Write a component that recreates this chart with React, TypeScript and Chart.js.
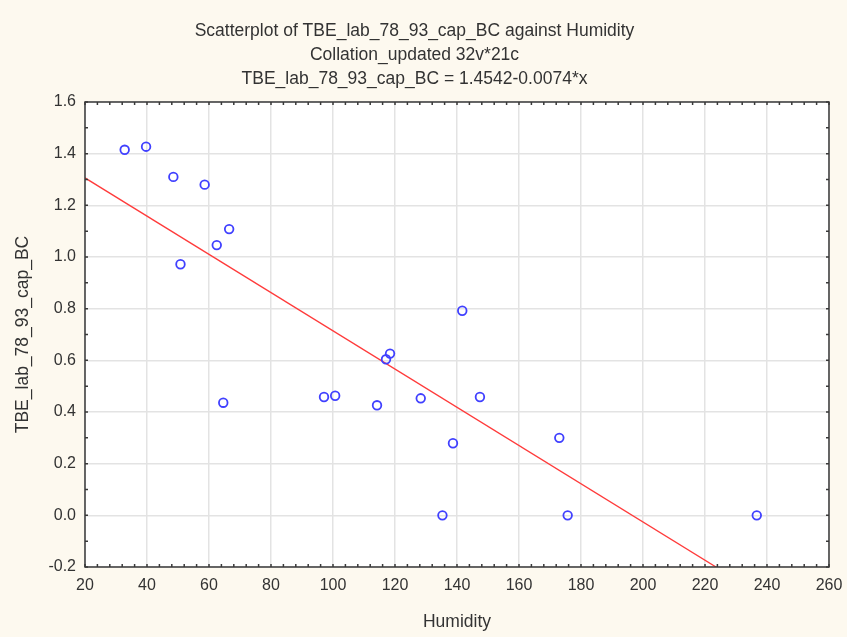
import React, { useEffect, useRef } from "react";
import { Chart, registerables } from "chart.js";

Chart.register(...registerables);

const humidity = [32.8, 39.7, 48.5, 58.6, 66.5, 62.5, 50.8, 64.6, 141.7, 118.4, 117.1, 97.1, 100.7, 114.2, 128.3, 147.4, 138.7, 135.3, 173.0, 175.7, 236.7];
const tbe = [1.415, 1.427, 1.31, 1.28, 1.108, 1.046, 0.972, 0.436, 0.792, 0.626, 0.604, 0.458, 0.463, 0.426, 0.453, 0.458, 0.279, 0.0, 0.30, 0.0, 0.0];

const intercept = 1.4542;
const slope = -0.0074;
const fitX = [20, 260];

const xTicks = [20, 40, 60, 80, 100, 120, 140, 160, 180, 200, 220, 240, 260];
const yTicks = [-0.2, 0.0, 0.2, 0.4, 0.6, 0.8, 1.0, 1.2, 1.4, 1.6];

const titleLines = [
  "Scatterplot of TBE_lab_78_93_cap_BC against Humidity",
  "Collation_updated 32v*21c",
  "TBE_lab_78_93_cap_BC = 1.4542-0.0074*x",
];

const FONT = "'Liberation Sans', Arial, sans-serif";
const BG = "#fdf9ef";
const TEXT = "#333333";

const framePlugin = {
  id: "frame",
  beforeDraw(chart: any) {
    const { ctx, chartArea: a } = chart;
    ctx.save();
    ctx.fillStyle = BG;
    ctx.fillRect(0, 0, chart.width, chart.height);
    ctx.fillStyle = "#ffffff";
    ctx.fillRect(a.left, a.top, a.right - a.left, a.bottom - a.top);
    ctx.restore();
  },
  afterDraw(chart: any) {
    const { ctx, chartArea: a, scales } = chart;
    ctx.save();
    ctx.strokeStyle = "#3a3a3a";
    ctx.lineWidth = 1.5;
    ctx.beginPath();
    const xs = scales.x;
    for (let v = 20; v <= 260; v += 4) {
      const px = xs.getPixelForValue(v);
      ctx.moveTo(px, a.bottom);
      ctx.lineTo(px, a.bottom - 3);
      ctx.moveTo(px, a.top);
      ctx.lineTo(px, a.top + 3);
    }
    const ys = scales.y;
    for (let i = -2; i <= 16; i++) {
      const py = ys.getPixelForValue(i / 10);
      ctx.moveTo(a.left, py);
      ctx.lineTo(a.left + 3, py);
      ctx.moveTo(a.right, py);
      ctx.lineTo(a.right - 3, py);
    }
    ctx.stroke();
    ctx.strokeRect(a.left, a.top, a.right - a.left, a.bottom - a.top);
    ctx.restore();
  },
};

export default function App() {
  const ref = useRef<HTMLCanvasElement | null>(null);
  useEffect(() => {
    document.body.style.margin = "0";
    const canvas = ref.current!;
    const chart = new Chart(canvas, {
      type: "scatter",
      data: {
        datasets: [
          {
            type: "line",
            label: "fit",
            data: fitX.map((x) => ({ x, y: intercept + slope * x })),
            borderColor: "#ff3b3b",
            borderWidth: 1.3,
            pointRadius: 0,
            fill: false,
            order: 2,
          } as any,
          {
            label: "points",
            data: humidity.map((x, i) => ({ x, y: tbe[i] })),
            borderColor: "#4040ff",
            backgroundColor: "rgba(255,255,255,0)",
            borderWidth: 1.8,
            pointRadius: 4.3,
            pointStyle: "circle",
            order: 1,
          },
        ],
      },
      options: {
        animation: false,
        responsive: false,
        layout: { padding: { left: 0, right: 18, top: 0, bottom: 0 } },
        plugins: {
          legend: { display: false },
          tooltip: { enabled: false },
          title: {
            display: true,
            text: titleLines,
            color: TEXT,
            font: { family: FONT, size: 17.5, weight: "normal", lineHeight: "24px" },
            padding: { top: 19, bottom: 11 },
          },
        },
        scales: {
          x: {
            type: "linear",
            min: 20,
            max: 260,
            afterBuildTicks: (s: any) => {
              s.ticks = xTicks.map((v) => ({ value: v }));
            },
            afterFit: (s: any) => {
              s.height = 70;
              s.paddingLeft = 0;
              s.paddingRight = 0;
            },
            ticks: {
              color: TEXT,
              font: { family: FONT, size: 16 },
              padding: 9,
              maxRotation: 0,
            },
            grid: { color: "#e3e3e3", lineWidth: 1.5, drawTicks: false },
            border: { display: false },
            title: {
              display: true,
              text: "Humidity",
              color: TEXT,
              font: { family: FONT, size: 17.5 },
              padding: { top: 0, bottom: 4.5 },
            },
          },
          y: {
            type: "linear",
            min: -0.2,
            max: 1.6,
            afterBuildTicks: (s: any) => {
              s.ticks = yTicks.map((v) => ({ value: v }));
            },
            afterFit: (s: any) => {
              s.width = 85;
              s.paddingTop = 0;
              s.paddingBottom = 0;
            },
            ticks: {
              color: TEXT,
              font: { family: FONT, size: 16 },
              padding: 9,
              callback: (v: any) => Number(v).toFixed(1),
            },
            grid: { color: "#e3e3e3", lineWidth: 1.5, drawTicks: false },
            border: { display: false },
            title: {
              display: true,
              text: "TBE_lab_78_93_cap_BC",
              color: TEXT,
              font: { family: FONT, size: 17.5 },
              padding: { top: 12.5, bottom: 0 },
            },
          },
        },
      },
      plugins: [framePlugin],
    });
    return () => chart.destroy();
  }, []);
  return (
    <div style={{ width: 847, height: 637, background: BG }}>
      <canvas ref={ref} width={847} height={637} style={{ display: "block" }} />
    </div>
  );
}
